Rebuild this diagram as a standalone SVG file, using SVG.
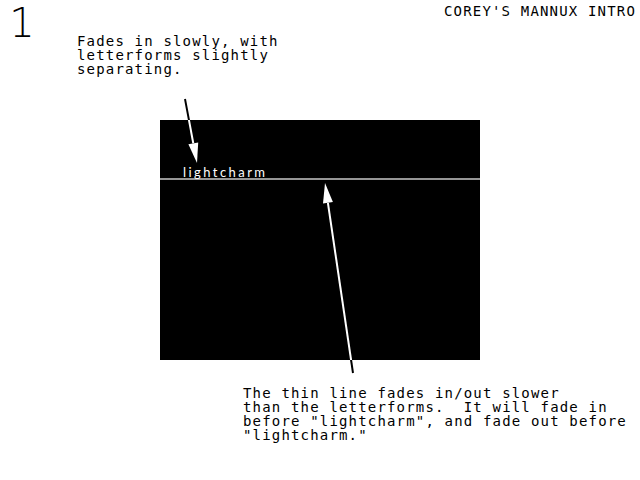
<svg xmlns="http://www.w3.org/2000/svg" width="640" height="480" viewBox="0 0 640 480">
  <style>
    .mono { font-family: "DejaVu Sans Mono", "Liberation Mono", monospace; font-size: 14px; letter-spacing: 1.17px; fill: #000; white-space: pre; }
    .big { font-family: "DejaVu Sans", "Liberation Sans", sans-serif; font-size: 40px; font-weight: 200; fill: #000; }
    .logo { font-family: "Lato", "DejaVu Sans", sans-serif; font-size: 13px; fill: #fff; }
  </style>
  <defs>
    <clipPath id="screenClip">
      <rect x="160" y="120" width="320" height="240"/>
    </clipPath>
  </defs>
  <rect width="640" height="480" fill="#fff"/>
  <g id="page-number">
    <text class="big" x="22" y="37" text-anchor="middle">1</text>
  </g>
  <g id="title">
    <text class="mono" x="444" y="16">COREY'S MANNUX INTRO</text>
  </g>
  <g id="screen">
    <rect x="160" y="120" width="320" height="240" fill="#000"/>
    <line x1="160" y1="179" x2="480" y2="179" stroke="#c8c8c8" stroke-width="1.5"/>
    <text class="logo" x="183" y="177" textLength="82" lengthAdjust="spacing">lightcharm</text>
  </g>
  <g id="note-top">
    <text class="mono" x="77" y="46">Fades in slowly, with</text>
    <text class="mono" x="77" y="60">letterforms slightly</text>
    <text class="mono" x="77" y="74">separating.</text>
  </g>
  <g id="note-bottom">
    <text class="mono" x="243" y="398" xml:space="preserve">The thin line fades in/out slower</text>
    <text class="mono" x="243" y="412" xml:space="preserve">than the letterforms.  It will fade in</text>
    <text class="mono" x="243" y="426" xml:space="preserve">before "lightcharm", and fade out before</text>
    <text class="mono" x="243" y="440" xml:space="preserve">"lightcharm."</text>
  </g>
  <g id="connectors">
    <line x1="185" y1="99" x2="193.3" y2="143.3" stroke="#000" stroke-width="2"/>
    <line x1="353" y1="373" x2="327.9" y2="202.8" stroke="#000" stroke-width="2"/>
    <g clip-path="url(#screenClip)">
      <line x1="185" y1="99" x2="193.3" y2="143.3" stroke="#fff" stroke-width="2"/>
      <line x1="353" y1="373" x2="327.9" y2="202.8" stroke="#fff" stroke-width="2"/>
    </g>
    <polygon points="197,163 198.2,142.4 188.4,144.2" fill="#fff"/>
    <polygon points="325,183 332.9,202.1 323,203.5" fill="#fff"/>
  </g>
</svg>
